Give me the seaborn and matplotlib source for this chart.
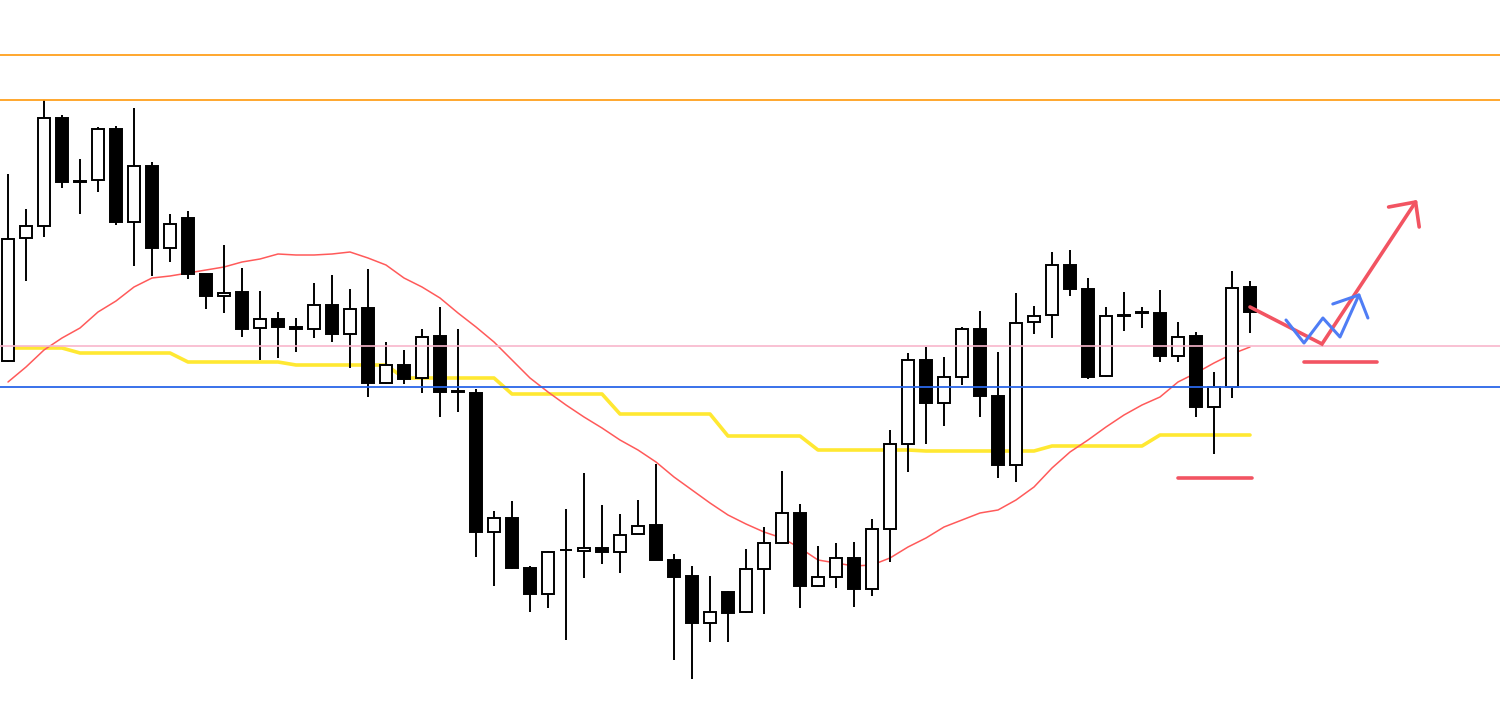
import numpy as np
import pandas as pd
import matplotlib
matplotlib.use("Agg")
import matplotlib.pyplot as plt
import seaborn as sns

# prices (screen level, top of picture = 724)
TOP = 724
opens = [361, 238, 226, 118, 181, 180, 129, 222, 166, 248, 218, 274, 296, 292,
         328, 319, 327, 329, 305, 334, 308, 383, 365, 378, 336, 391, 393, 532,
         518, 568, 594, 550, 551, 548, 552, 534, 525, 560, 576, 623, 592, 612,
         569, 543, 513, 586, 577, 558, 589, 529, 444, 360, 403, 377, 329, 396,
         465, 322, 315, 265, 289, 376, 315.5, 312.5, 313, 356, 336, 407, 387, 287]
highs = [174, 209, 100, 115, 159, 127, 126, 108, 162, 214, 211, 274, 245, 268,
         291, 312, 318, 283, 275, 289, 269, 342, 350, 329, 307, 329, 389, 511,
         501, 566, 551, 509, 473, 505, 514, 500, 464, 554, 566, 576, 591, 549,
         527, 471, 504, 546, 543, 542, 519, 430, 353, 347, 357, 327, 311, 352,
         293, 306, 252, 250, 278, 307, 292, 307, 290, 322, 332, 372, 271, 281]
lows = [362, 281, 237, 188, 214, 192, 225, 266, 276, 262, 279, 309, 313, 337,
        360, 358, 352, 338, 342, 368, 397, 384, 384, 393, 417, 412, 557, 586,
        569, 612, 608, 640, 578, 564, 573, 534, 560, 660, 679, 642, 642, 613,
        614, 543, 608, 587, 588, 607, 596, 562, 472, 444, 426, 385, 417, 478,
        482, 334, 338, 296, 379, 377, 331, 328, 362, 362, 417, 454, 398, 333]
closes = [239, 226, 118, 182, 182, 129, 222, 166, 248, 224, 274, 296, 293, 329,
          319, 327, 329, 305, 334, 309, 383, 365, 379, 337, 392, 391.5, 532, 518,
          568, 594, 552, 549.5, 548, 552, 535, 526, 560, 577, 623, 612, 612.5, 569,
          543, 513, 586, 577, 558, 589, 529, 444, 360, 403, 377, 329, 396, 465,
          323, 316, 265, 289, 377, 316, 314.5, 311.5, 356, 337, 407, 387, 288, 312]

ma = [382, 367, 350, 338, 328, 312, 301, 287, 278, 276, 273, 270, 267, 262,
      259, 254, 255, 255, 254, 252, 258, 265, 278, 287, 298, 313, 327, 342,
      360, 378, 392, 405, 417, 428, 440, 450, 462, 477, 490, 503, 515, 524,
      532, 538, 548, 560, 563, 566, 565, 558, 547, 538, 527, 520, 513, 510,
      500, 487, 468, 452, 440, 427, 415, 405, 397, 382, 373, 363, 354, 347]

base = [348, 348, 348, 348, 353, 353, 353, 353, 353, 353, 362, 362, 362, 362,
        362, 362, 365, 365, 365, 365, 365, 365, 378, 378, 378, 378, 378, 378,
        394, 394, 394, 394, 394, 394, 414, 414, 414, 414, 414, 414, 436, 436,
        436, 436, 436, 450, 450, 450, 450, 450, 450, 451, 451, 451, 451, 451,
        451, 451, 446, 446, 446, 446, 446, 446, 435, 435, 435, 435, 435, 435]

levels_orange = [55, 100]
level_pink = 346
level_blue = 387

# scenario drawn on the right (x in bars, y in screen level)
red_path_x = [69, 73, 78.2]
red_path_y = [307, 344, 202]
red_head_x = [76.7, 78.2, 78.4]
red_head_y = [207, 202, 227]
blue_path_x = [71, 72, 73.05, 74, 75.05]
blue_path_y = [320, 343, 318, 337, 295]
blue_head_x = [73.6, 75.05, 75.55]
blue_head_y = [304, 295, 318]
stop_lines = [(72, 76.05, 362), (65, 69.1, 478)]

df = pd.DataFrame({
    "i": np.arange(len(opens)),
    "open": TOP - np.array(opens, float),
    "high": TOP - np.array(highs, float),
    "low": TOP - np.array(lows, float),
    "close": TOP - np.array(closes, float),
    "ma": TOP - np.array(ma, float),
    "base": TOP - np.array(base, float),
})

sns.set_theme(style="white")
fig = plt.figure(figsize=(15, 7.24), dpi=100)
ax = fig.add_axes([0, 0, 1, 1])

sns.lineplot(data=df, x="i", y="base", ax=ax, color="#FFE832", lw=2.6, zorder=1)
sns.lineplot(data=df, x="i", y="ma", ax=ax, color="#FF5A5A", lw=1.1, zorder=1)

up = df["close"] >= df["open"]
ax.vlines(df["i"], df["low"], df["high"], color="black", lw=1.4, zorder=2)
bottom = np.minimum(df["open"], df["close"])
height = np.abs(df["close"] - df["open"])
ax.bar(df["i"], height, bottom=bottom, width=0.68,
       color=np.where(up, "white", "black"), edgecolor="black", lw=1.4, zorder=3)

for y in levels_orange:
    ax.axhline(TOP - y, color="#FFA01E", lw=1.3, zorder=4)
ax.axhline(TOP - level_pink, color="#F8B6CC", lw=1.2, zorder=4)
ax.axhline(TOP - level_blue, color="#2A66E8", lw=1.3, zorder=4)

red = "#F25462"
blue = "#4F7DF5"
ax.plot(red_path_x, TOP - np.array(red_path_y), color=red, lw=2.6,
        solid_capstyle="round", solid_joinstyle="miter", zorder=5)
ax.plot(red_head_x, TOP - np.array(red_head_y), color=red, lw=2.6,
        solid_capstyle="round", zorder=5)
ax.plot(blue_path_x, TOP - np.array(blue_path_y), color=blue, lw=2.2,
        solid_capstyle="round", zorder=6)
ax.plot(blue_head_x, TOP - np.array(blue_head_y), color=blue, lw=2.2,
        solid_capstyle="round", zorder=6)
for x0, x1, y in stop_lines:
    ax.plot([x0, x1], [TOP - y, TOP - y], color=red, lw=2.6, zorder=5)

ax.set_xlim(-8 / 18, (1500 - 8) / 18)
ax.set_ylim(0, TOP)
ax.axis("off")
fig.savefig("out.png", dpi=100, facecolor="white")
